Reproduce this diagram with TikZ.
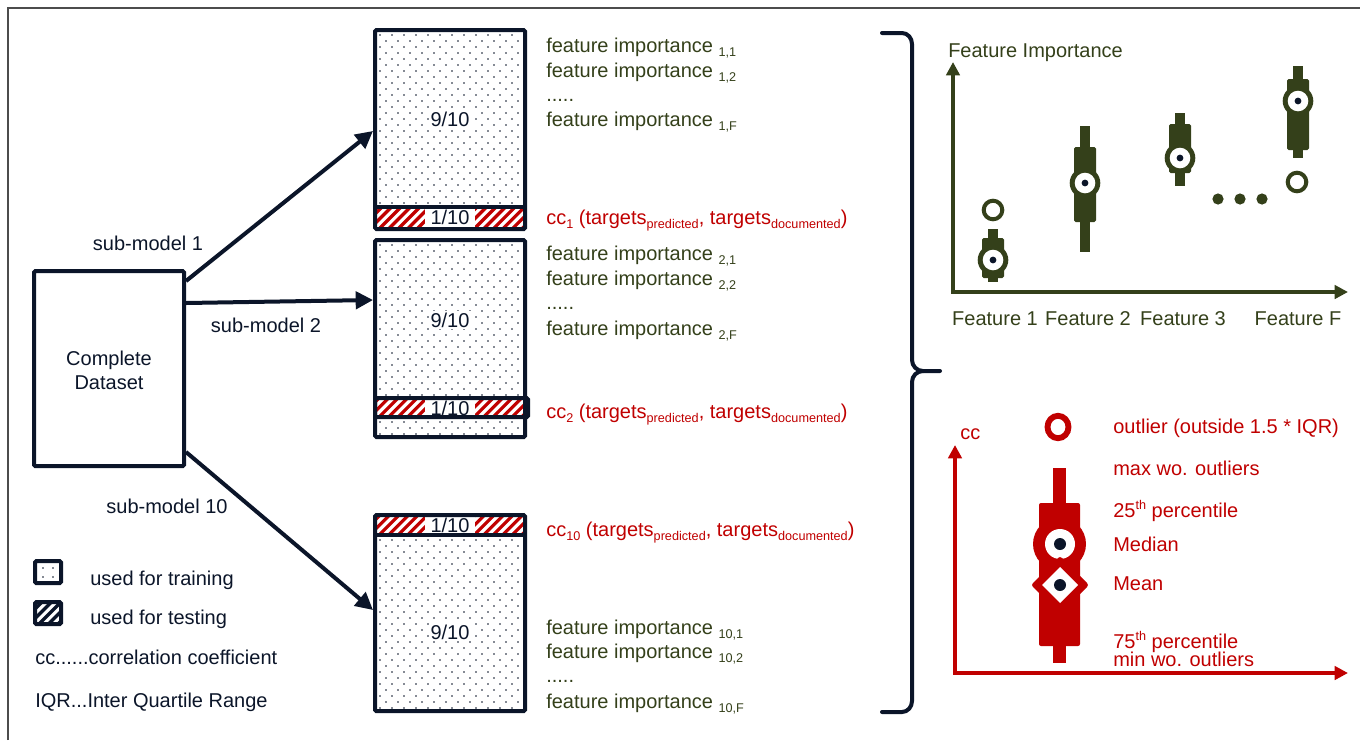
\documentclass[tikz,border=0pt]{standalone}
\usepackage{fontspec}
\setmainfont{Liberation Sans}
\usetikzlibrary{arrows.meta,fit,calc}
\definecolor{navy}{RGB}{11,21,41}
\definecolor{olive}{RGB}{52,64,26}
\definecolor{cred}{RGB}{192,0,0}
\newcommand\sbs[1]{\raisebox{-3pt}{\fontsize{9.5}{10}\selectfont #1}}
\newcommand\sps[1]{\raisebox{6pt}{\fontsize{9.5}{10}\selectfont #1}}
\newcommand\dotarea[4]{%
 \begin{scope}
 \clip (#1,#2) rectangle (#3,#4);
 \pgfmathtruncatemacro\nr{(#4-#2)/6+1}
 \pgfmathtruncatemacro\nc{(#3-#1)/12+1}
 \foreach \i in {0,...,\nr}{\foreach \j in {0,...,\nc}{\fill[navy] ({#1+3+\j*12+mod(\i,2)*6},{#2+3+\i*6}) circle (0.8);}}
 \end{scope}}
\newcommand\hatcharea[6]{%
 \begin{scope}
 \clip (#1,#2) rectangle (#3,#4);
 \foreach \k in {-4,...,18}{\draw[#5, line width=#6] ({#1+\k*9.5},#4+4) -- ++(32,-32);}
 \end{scope}}
\newcommand\gbp[6]{%
 \fill[olive] (#1-5,#2) rectangle (#1+5,#3);
 \fill[olive, rounded corners=1.2pt] (#1-11,#4) rectangle (#1+11,#5);
 \fill[olive] (#1,#6) circle (15.3);
 \fill[white] (#1,#6) circle (10.3);
 \fill[navy] (#1,#6) circle (3.4);}
\begin{document}
\begin{tikzpicture}[x=0.75pt,y=-0.75pt,
  txt/.style={font=\fontsize{15}{18}\selectfont, inner sep=0pt, anchor=base west},
  ctxt/.style={font=\fontsize{15}{18}\selectfont, inner sep=0pt, anchor=base},
  frame/.style={draw=navy, line width=3pt, rounded corners=1pt, inner sep=0pt},
  arr/.style={draw=navy, line width=3pt, -{Triangle[length=13pt,width=13pt]}},
  bracestyle/.style={draw=navy, line width=3pt, line cap=round},
  gaxis/.style={draw=olive, line width=2.5pt, {Triangle[length=10pt,width=10pt]}-{Triangle[length=10pt,width=10pt]}},
  raxis/.style={draw=cred, line width=2.5pt, {Triangle[length=10pt,width=10pt]}-{Triangle[length=10pt,width=10pt]}},
]
\useasboundingbox (0,0) rectangle (1360,740);
% outer frame
\draw[black!70, line width=1.1pt] (8,740) -- (8,8) -- (1360,8);

% ---------- data boxes ----------
\dotarea{377}{32}{523}{205}
\hatcharea{377}{209}{523}{227}{cred}{2.4pt}
\fill[white] (425,209) rectangle (475,227);
\node[frame, fit={(375,30)(525,229)}] (b1) {};
\draw[navy, line width=3pt] (375,207) -- (525,207);

\dotarea{377}{242}{523}{396}
\dotarea{377}{419}{523}{435}
\hatcharea{377}{400}{526}{415}{cred}{2.4pt}
\fill[white] (425,400) rectangle (475,415);
\node[frame, fit={(375,240)(525,437)}] (b2) {};
\draw[navy, line width=3pt, rounded corners=1pt] (375,398) rectangle (528,417);

\dotarea{377}{537}{523}{709}
\hatcharea{377}{517}{523}{533}{cred}{2.4pt}
\fill[white] (425,517) rectangle (475,533);
\node[frame, fit={(375,515)(525,711)}] (b3) {};
\draw[navy, line width=3pt] (375,535) -- (525,535);

\node[ctxt, navy, fill=white, inner sep=1pt] at (450,126) {9/10};
\node[ctxt, navy, fill=white, inner sep=1pt] at (450,327) {9/10};
\node[ctxt, navy, fill=white, inner sep=1pt] at (450,639) {9/10};
\node[ctxt, navy] at (450,224) {1/10};
\node[ctxt, navy] at (450,415) {1/10};
\node[ctxt, navy] at (450,532) {1/10};

% ---------- complete dataset ----------
\node[frame, fit={(34,271)(184,466)}] (cd) {};
\node[font=\fontsize{15}{18}\selectfont, align=center, navy, inner sep=0pt] (cdt) at (109,370) {Complete\\Dataset};

\draw[arr] ($(cd.north east)+(0,12)$) -- ($(b1.north west)+(0,103)$);
\draw[arr] ($(cd.north east)+(0,34)$) -- ($(b2.north west)+(0,62)$);
\draw[arr] ($(cd.south east)+(0,-16)$) -- ($(b3.north west)+(0,97)$);

\node[ctxt, navy] (l1) at (148,250) {sub-model 1};
\node[ctxt, navy] (l2) at (266,332) {sub-model 2};
\node[ctxt, navy] (l3) at (167,513) {sub-model 10};

% ---------- texts right of boxes ----------
\node[txt, olive] (f11) at (546,52) {feature importance \sbs{1,1}};
\node[txt, olive] (f12) at (546,77) {feature importance \sbs{1,2}};
\node[txt, olive] (f1d) at (546,101) {.....};
\node[txt, olive] (f1f) at (546,126) {feature importance \sbs{1,F}};
\node[txt, cred] (c1) at (546,224) {cc\sbs{1} (targets\sbs{predicted}, targets\sbs{documented})};

\node[txt, olive] (f21) at (546,260) {feature importance \sbs{2,1}};
\node[txt, olive] (f22) at (546,285) {feature importance \sbs{2,2}};
\node[txt, olive] (f2d) at (546,309) {.....};
\node[txt, olive] (f2f) at (546,335) {feature importance \sbs{2,F}};
\node[txt, cred] (c2) at (546,418) {cc\sbs{2} (targets\sbs{predicted}, targets\sbs{documented})};

\node[txt, cred] (c10) at (546,536) {cc\sbs{10} (targets\sbs{predicted}, targets\sbs{documented})};
\node[txt, olive] (f31) at (546,634) {feature importance \sbs{10,1}};
\node[txt, olive] (f32) at (546,658) {feature importance \sbs{10,2}};
\node[txt, olive] (f3d) at (546,682) {.....};
\node[txt, olive] (f3f) at (546,708) {feature importance \sbs{10,F}};

% ---------- legend ----------
\fill[navy] (43,568) circle (0.8); \fill[navy] (53,568) circle (0.8);
\fill[navy] (43,577) circle (0.8); \fill[navy] (53,577) circle (0.8);
\node[frame, fit={(35,561)(61,583)}] (lg1) {};
\hatcharea{35}{602}{61}{624}{navy}{2.6pt}
\node[frame, fit={(35,602)(61,624)}] (lg2) {};
\node[txt, navy] (lt1) at (90,585) {used for training};
\node[txt, navy] (lt2) at (90,624) {used for testing};
\node[txt, navy] (lt3) at (35,664) {cc......correlation coefficient};
\node[txt, navy] (lt4) at (35,707) {IQR...Inter Quartile Range};

% ---------- brace ----------
\draw[bracestyle] (882,33) -- (902,33) to[out=0,in=90] (912,44) -- (912,360) to[out=-90,in=180] (923,371) -- (940,371);
\draw[bracestyle] (923,371) to[out=180,in=90] (912,382) -- (912,701) to[out=-90,in=0] (902,712) -- (882,712);

% ---------- top chart ----------
\draw[gaxis] (953,62) -- (953,292) -- (1348,292);
\node[txt, olive] (fi) at (948,57) {Feature Importance};
\gbp{993}{229}{282}{238}{278}{260}
\gbp{1085}{126}{252}{147}{222}{183}
\gbp{1180}{113}{186}{124}{173}{158}
\gbp{1298}{66}{158}{79}{150}{101}
\draw[olive, line width=3pt, fill=white] (993,210) circle (9.3);
\draw[olive, line width=3pt, fill=white] (1297,182) circle (9.3);
\fill[olive] (1218,199) circle (5.6);
\fill[olive] (1240,199) circle (5.6);
\fill[olive] (1262,199) circle (5.6);
\node[ctxt, olive] (x1) at (995,325) {Feature 1};
\node[ctxt, olive] (x2) at (1088,325) {Feature 2};
\node[ctxt, olive] (x3) at (1183,325) {Feature 3};
\node[ctxt, olive] (xf) at (1298,325) {Feature F};

% ---------- bottom chart ----------
\draw[raxis] (955,445) -- (955,673) -- (1348,673);
\node[txt, cred] (ccl) at (960,439) {cc};
\fill[cred] (1052.5,468) rectangle (1065.5,663);
\fill[cred, rounded corners=1.5pt] (1039,503) rectangle (1080,646);
\fill[cred] (1059.5,544) circle (26.5);
\fill[white] (1060,544) circle (15);
\fill[cred, rounded corners=2pt] (1060,556) -- (1089,585) -- (1060,614) -- (1031,585) -- cycle;
\fill[white] (1060,567) -- (1078,585) -- (1060,603) -- (1042,585) -- cycle;
\fill[navy] (1060,544) circle (6);
\fill[navy] (1060,585) circle (6);
\draw[cred, line width=4.4pt] (1058,427) ellipse [x radius=10.5, y radius=11.2];
\node[txt, cred] (r1) at (1113,433) {outlier (outside 1.5 * IQR)};
\node[txt, cred] (r2) at (1113,475) {max wo. outliers};
\node[txt, cred] (r3) at (1113,517) {25\sps{th} percentile};
\node[txt, cred] (r4) at (1113,551) {Median};
\node[txt, cred] (r5) at (1113,590) {Mean};
\node[txt, cred] (r6) at (1113,648) {75\sps{th} percentile};
\node[txt, cred] (r7) at (1113,666) {min wo. outliers};
\end{tikzpicture}
\end{document}
